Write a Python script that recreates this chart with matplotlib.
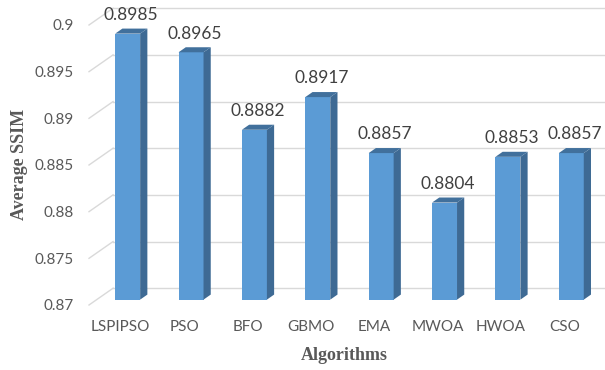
import matplotlib.pyplot as plt
from matplotlib.patches import Polygon

algorithms = ["LSPIPSO", "PSO", "BFO", "GBMO", "EMA", "MWOA", "HWOA", "CSO"]
avg_ssim = [0.8985, 0.8965, 0.8882, 0.8917, 0.8857, 0.8804, 0.8853, 0.8857]
y_ticks = [0.87, 0.875, 0.88, 0.885, 0.89, 0.895, 0.9]
y_tick_labels = ["0.87", "0.875", "0.88", "0.885", "0.89", "0.895", "0.9"]

FRONT = "#5B9BD5"
SIDE = "#3E6A94"
TOP = "#41709C"
GRID = "#D9D9D9"
TEXT = "#595959"

fig = plt.figure(figsize=(6.05, 3.70), dpi=100)
ax = fig.add_axes([89 / 605, 65 / 370, 507 / 605, 280 / 370])
ax.set_xlim(-0.5, len(algorithms) - 0.5)
ax.set_ylim(y_ticks[0], y_ticks[-1])
for s in ax.spines.values():
    s.set_visible(False)

# depth of the fake 3D box (data units)
depth_x = 0.38
depth_y = 0.0018
d0, d1 = 0.32, 0.62      # bar front / back position inside the box
bar_w = 0.394

# back wall + left wall gridlines
x0 = -0.5
x1 = len(algorithms) - 0.5
for v in y_ticks:
    ax.plot([x0, x0 + depth_x], [v, v + depth_y], color=GRID, lw=1.0,
            clip_on=False, zorder=0)
    ax.plot([x0 + depth_x, x1 + depth_x], [v + depth_y, v + depth_y],
            color=GRID, lw=1.0, clip_on=False, zorder=0)

sx = (d1 - d0) * depth_x
sy = (d1 - d0) * depth_y
for i, v in enumerate(avg_ssim):
    xl = i - bar_w / 2 + 0.11
    xr = xl + bar_w
    b = y_ticks[0] + d0 * depth_y
    t = v + d0 * depth_y
    ax.bar(xl, t - b, bottom=b, width=bar_w, align="edge", color=FRONT,
           zorder=2, clip_on=False)
    ax.add_patch(Polygon([(xr, b), (xr + sx, b + sy), (xr + sx, t + sy), (xr, t)],
                         closed=True, facecolor=SIDE, edgecolor="none",
                         zorder=2, clip_on=False))
    ax.add_patch(Polygon([(xl, t), (xr, t), (xr + sx, t + sy), (xl + sx, t + sy)],
                         closed=True, facecolor=TOP, edgecolor="none",
                         zorder=2, clip_on=False))
    ax.annotate(f"{v:.4f}", xy=((xl + xr + sx) / 2, t + sy), xytext=(0, 4),
                textcoords="offset points", ha="center", va="bottom",
                fontsize=12.5, color="#404040", family="Lato")

ax.set_yticks(y_ticks)
ax.set_yticklabels(y_tick_labels)
ax.set_xticks(range(len(algorithms)))
ax.set_xticklabels(algorithms)
ax.tick_params(axis="y", length=0, pad=11, labelsize=11, labelcolor=TEXT)
ax.tick_params(axis="x", length=0, pad=11, labelsize=11, labelcolor=TEXT)
for lbl in ax.get_xticklabels() + ax.get_yticklabels():
    lbl.set_family("Lato")

fig.text(20 / 605, 1 - 164 / 370, "Average SSIM", rotation=90, ha="center",
         va="center", fontsize=13, fontweight="bold", family="Liberation Serif",
         color=TEXT)
fig.text(344 / 605, 1 - 355 / 370, "Algorithms", ha="center", va="center",
         fontsize=13, fontweight="bold", family="Liberation Serif",
         color=TEXT)

fig.savefig("out.png", dpi=100)
